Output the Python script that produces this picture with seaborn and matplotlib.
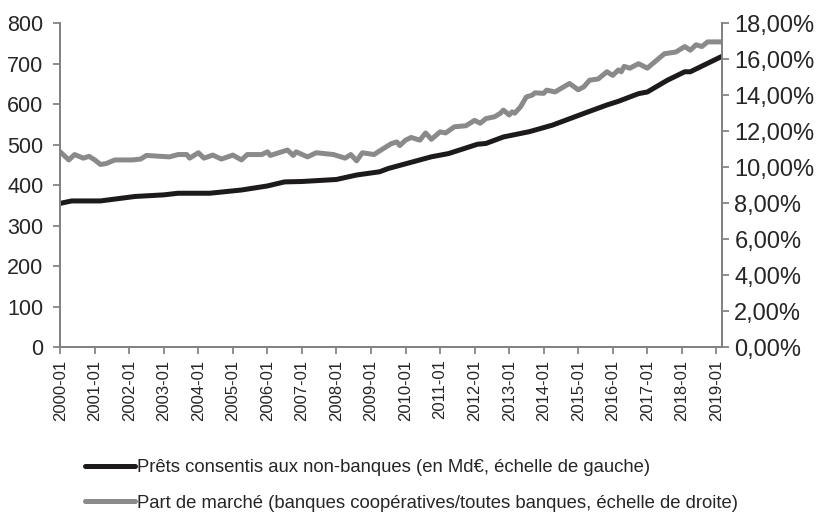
import pandas as pd
import seaborn as sns
import matplotlib.pyplot as plt
import matplotlib.dates as mdates
from matplotlib.ticker import FuncFormatter, MultipleLocator

# market share (%, right axis)
share_dates = [
    "2000-01", "2000-04", "2000-06", "2000-09", "2000-11", "2001-01", "2001-03", "2001-05",
    "2001-08", "2002-02", "2002-05", "2002-07", "2003-03", "2003-06", "2003-09", "2003-10",
    "2004-01", "2004-03", "2004-06", "2004-09", "2005-01", "2005-04", "2005-06", "2005-11",
    "2006-01", "2006-02", "2006-05", "2006-08", "2006-10", "2006-11", "2007-03", "2007-06",
    "2007-12", "2008-04", "2008-06", "2008-08", "2008-10", "2009-02", "2009-04", "2009-08",
    "2009-10", "2009-11", "2010-01", "2010-03", "2010-06", "2010-08", "2010-10", "2011-01",
    "2011-03", "2011-06", "2011-10", "2012-01", "2012-03", "2012-05", "2012-08", "2012-10",
    "2012-11", "2013-01", "2013-02", "2013-03", "2013-05", "2013-07", "2013-09", "2013-10",
    "2014-01", "2014-02", "2014-05", "2014-10", "2015-01", "2015-03", "2015-05", "2015-08",
    "2015-11", "2016-01", "2016-03", "2016-04", "2016-05", "2016-07", "2016-10", "2017-01",
    "2017-04", "2017-07", "2017-11", "2018-02", "2018-04", "2018-06", "2018-08", "2018-10",
    "2019-03",
]
share_values = [
    10.85, 10.4, 10.7, 10.5, 10.6, 10.4, 10.15, 10.2,
    10.4, 10.4, 10.45, 10.65, 10.57, 10.7, 10.7, 10.5,
    10.8, 10.5, 10.67, 10.45, 10.67, 10.4, 10.7, 10.7,
    10.85, 10.65, 10.8, 10.95, 10.65, 10.85, 10.57, 10.8,
    10.7, 10.5, 10.7, 10.35, 10.8, 10.7, 10.9, 11.3,
    11.4, 11.2, 11.5, 11.65, 11.5, 11.9, 11.55, 11.96,
    11.9, 12.24, 12.3, 12.6, 12.44, 12.7, 12.8, 13.0,
    13.17, 12.9, 13.07, 13.0, 13.35, 13.9, 14.0, 14.13,
    14.1, 14.28, 14.18, 14.65, 14.3, 14.46, 14.83, 14.9,
    15.3, 15.1, 15.4, 15.3, 15.6, 15.5, 15.75, 15.5,
    15.9, 16.3, 16.4, 16.7, 16.5, 16.8, 16.7, 16.96,
    16.96,
]

# loans to non-banks (bn EUR, left axis)
loan_dates = [
    "2000-01", "2000-05", "2001-03", "2002-03", "2003-01", "2003-06", "2004-05", "2005-04",
    "2006-01", "2006-07", "2007-01", "2008-01", "2008-08", "2009-04", "2009-07", "2010-10",
    "2011-04", "2012-02", "2012-05", "2012-11", "2013-08", "2014-04", "2015-03", "2015-11",
    "2016-03", "2016-10", "2017-01", "2017-08", "2018-02", "2018-04", "2019-03",
]
loan_values = [
    355, 361, 361, 372, 376, 380, 380, 388,
    398, 408, 409, 414, 425, 433, 441, 470,
    478, 501, 503, 519, 532, 548, 577, 598,
    607, 626, 630, 659, 680, 680, 718,
]

label_loans = "Prêts consentis aux non-banques (en Md€, échelle de gauche)"
label_share = "Part de marché (banques coopératives/toutes banques, échelle de droite)"

loans = pd.DataFrame({"date": pd.to_datetime(loan_dates), "value": loan_values})
share = pd.DataFrame({"date": pd.to_datetime(share_dates), "value": share_values})

sns.set_theme(style="ticks")
plt.rcParams["font.family"] = ["Liberation Sans", "DejaVu Sans"]

spine_col = "#808080"
fig = plt.figure(figsize=(8.25, 5.15), dpi=100)
ax = fig.add_axes([0.073, 0.326, 0.802, 0.629])
ax2 = ax.twinx()

sns.lineplot(data=loans, x="date", y="value", ax=ax, color="#1c1a1a",
             linewidth=3.6, label=label_loans, legend=False)
sns.lineplot(data=share, x="date", y="value", ax=ax2, color="#8a8a8a",
             linewidth=3.6, label=label_share, legend=False)

ax.set_xlim(pd.Timestamp("2000-01-01"), pd.Timestamp("2019-03-01"))
ax.set_ylim(0, 800)
ax2.set_ylim(0, 18)
ax.yaxis.set_major_locator(MultipleLocator(100))
ax2.yaxis.set_major_locator(MultipleLocator(2))
ax2.yaxis.set_major_formatter(FuncFormatter(lambda v, p: f"{v:.2f}".replace(".", ",") + "%"))

ax.xaxis.set_major_locator(mdates.YearLocator())
ax.xaxis.set_major_formatter(mdates.DateFormatter("%Y-%m"))
ax.tick_params(axis="x", labelrotation=90, labelsize=12, length=5, color=spine_col, pad=4)
ax.tick_params(axis="y", labelsize=15.5, length=5, color=spine_col, pad=7)
ax2.tick_params(axis="y", labelsize=17, length=5, color=spine_col, pad=4)

for a in (ax, ax2):
    a.set_xlabel("")
    a.set_ylabel("")
    a.spines["top"].set_visible(False)
    for s in ("left", "right", "bottom"):
        a.spines[s].set_color(spine_col)
        a.spines[s].set_linewidth(1.2)

handles = ax.get_lines()[:1] + ax2.get_lines()[:1]
fig.legend(handles, [label_loans, label_share], loc="upper left",
           bbox_to_anchor=(0.103, 0.108), bbox_transform=fig.transFigure,
           frameon=False, fontsize=13.3, handlelength=2.7, handletextpad=0.1,
           labelspacing=1.0, borderpad=0, borderaxespad=0)

fig.savefig("out.png", dpi=100)
